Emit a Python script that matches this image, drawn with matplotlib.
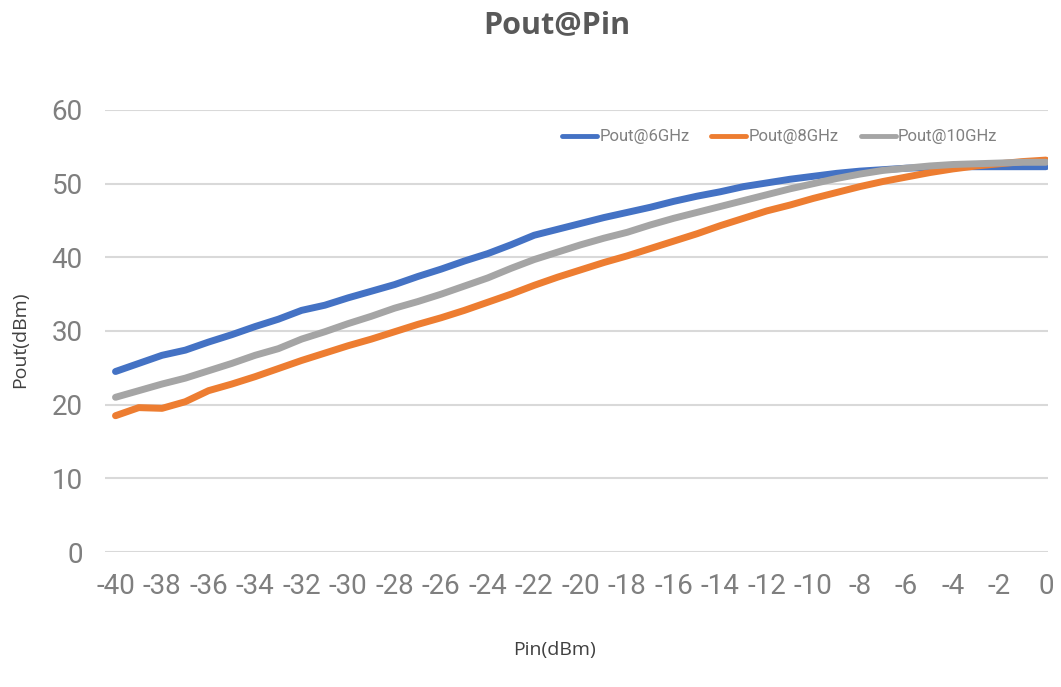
import numpy as np
import matplotlib.pyplot as plt

plt.rcParams['axes.unicode_minus'] = False

# Input power sweep (dBm)
pin = list(range(-40, 1))

# Output power (dBm)
pout_6ghz = [24.5, 25.6, 26.7, 27.4, 28.5, 29.5, 30.6, 31.6, 32.8, 33.5,
             34.5, 35.4, 36.3, 37.4, 38.4, 39.5, 40.5, 41.7, 43.0, 43.8,
             44.6, 45.4, 46.1, 46.8, 47.6, 48.3, 48.9, 49.6, 50.1, 50.6,
             51.0, 51.4, 51.7, 51.9, 52.1, 52.2, 52.3, 52.3, 52.3, 52.3, 52.3]
pout_8ghz = [18.5, 19.6, 19.5, 20.4, 21.9, 22.8, 23.8, 24.9, 26.0, 27.0,
             28.0, 28.9, 29.9, 30.9, 31.8, 32.8, 33.9, 35.0, 36.2, 37.3,
             38.3, 39.3, 40.2, 41.2, 42.2, 43.2, 44.3, 45.3, 46.3, 47.1,
             48.0, 48.8, 49.6, 50.3, 50.9, 51.5, 52.0, 52.4, 52.7, 53.0, 53.2]
pout_10ghz = [21.0, 21.9, 22.8, 23.6, 24.6, 25.6, 26.7, 27.6, 28.9, 29.9,
              31.0, 32.0, 33.1, 34.0, 35.0, 36.1, 37.2, 38.5, 39.7, 40.7,
              41.7, 42.6, 43.4, 44.4, 45.3, 46.1, 46.9, 47.7, 48.5, 49.3,
              50.0, 50.7, 51.3, 51.8, 52.1, 52.4, 52.6, 52.7, 52.8, 52.9, 52.9]

series = [
    ('Pout@6GHz', pout_6ghz, '#4472C4'),
    ('Pout@8GHz', pout_8ghz, '#ED7D31'),
    ('Pout@10GHz', pout_10ghz, '#A5A5A5'),
]

xticks = list(range(-40, 1, 2))
yticks = list(range(0, 61, 10))

fig = plt.figure(figsize=(10.61, 6.87), dpi=100)
ax = fig.add_axes([0.099, 0.1965, 0.889, 0.6434])

for label, vals, color in series:
    ax.plot(pin, vals, color=color, linewidth=5, solid_capstyle='round',
            label=label)

ax.set_xlim(-40.45, 0.1)
ax.set_ylim(0, 60)
ax.set_xticks(xticks)
ax.set_yticks(yticks)
ax.grid(True, axis='y', color='#d9d9d9', linewidth=1.5)
ax.set_axisbelow(True)
for s in ax.spines.values():
    s.set_visible(False)

tick_font = 'Roboto'
ax.tick_params(axis='both', length=0, colors='#7f7f7f', labelsize=20)
ax.tick_params(axis='x', pad=15)
ax.tick_params(axis='y', pad=16)
for lbl in ax.get_xticklabels() + ax.get_yticklabels():
    lbl.set_fontfamily(tick_font)

# Titles and axis labels
fig.text(0.525, 0.963, 'Pout@Pin', ha='center', va='center',
         fontsize=22, fontweight='bold', color='#595959', family='Open Sans')
fig.text(0.019, 0.505, 'Pout(dBm)', rotation=90, ha='center', va='center',
         fontsize=14, color='#404040', family='Open Sans')
fig.text(0.523, 0.054, 'Pin(dBm)', ha='center', va='center',
         fontsize=14, color='#404040', family='Open Sans')

leg = ax.legend(loc='upper right', bbox_to_anchor=(0.962, 0.99), ncol=3,
                frameon=False, handlelength=2.1, handletextpad=0.15,
                columnspacing=1.3, prop={'family': tick_font, 'size': 12})
for t in leg.get_texts():
    t.set_color('#808080')
for h in leg.get_lines():
    h.set_linewidth(3.5)

fig.savefig('out.png', dpi=100)
